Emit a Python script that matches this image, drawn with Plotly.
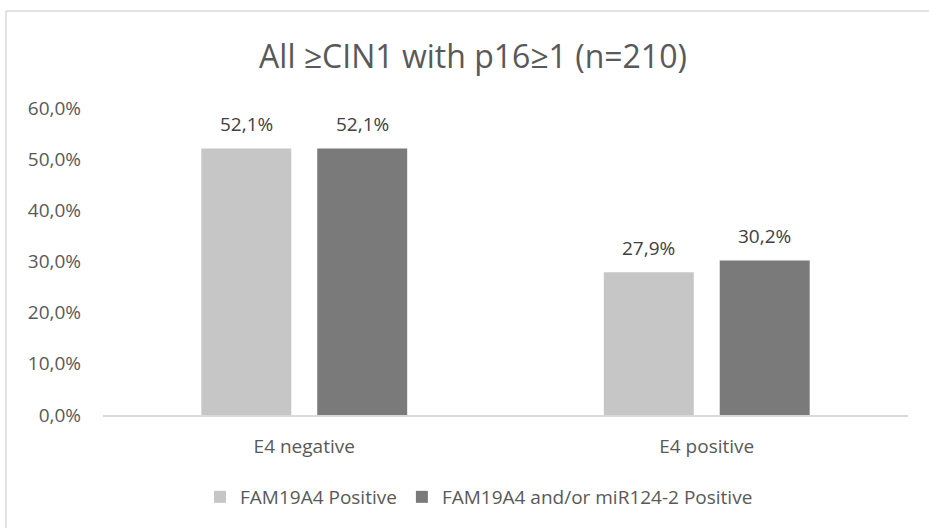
import plotly.graph_objects as go

categories = ["E4 negative", "E4 positive"]
series_names = ["FAM19A4 Positive", "FAM19A4 and/or miR124-2 Positive"]
fam19a4 = [52.1, 27.9]
fam19a4_mir = [52.1, 30.2]
series_values = [fam19a4, fam19a4_mir]
colors = ["#c6c6c6", "#7a7a7a"]
y_ticks = [0, 10, 20, 30, 40, 50, 60]
title_text = "All ≥CIN1 with p16≥1 (n=210)"

FONT = "Open Sans"


def pct(v):
    return f"{v:.1f}%".replace(".", ",")


fig = go.Figure()
for name, vals, col in zip(series_names, series_values, colors):
    fig.add_trace(go.Bar(
        x=categories, y=vals, name=name,
        marker=dict(color=col, line=dict(width=0)),
        hoverinfo="skip",
    ))

# data labels
shifts = [-58, 58]
for vals, sh in zip(series_values, shifts):
    for c, v in zip(categories, vals):
        fig.add_annotation(
            x=c, y=v, xref="x", yref="y", text=pct(v),
            showarrow=False, xshift=sh, yshift=9, yanchor="bottom",
            font=dict(family=FONT, size=19, color="#404040"),
        )

L, R, T, B = 103, 21, 108, 113
W, H = 929, 528
pw, ph = W - L - R, H - T - B


def px(xp):
    return (xp - L) / pw


def py(yp):
    return (H - B - yp) / ph


# chart-area border (left and top edges visible)
border = dict(color="#d9d9d9", width=1.5)
fig.add_shape(type="line", xref="paper", yref="paper",
              x0=px(6), x1=px(6), y0=py(540), y1=py(11), line=border, layer="below")
fig.add_shape(type="line", xref="paper", yref="paper",
              x0=px(6), x1=px(940), y0=py(11), y1=py(11), line=border, layer="below")

fig.update_layout(
    width=W, height=H,
    margin=dict(l=L, r=R, t=T, b=B),
    paper_bgcolor="white", plot_bgcolor="white",
    separators=",.",
    barmode="group", bargap=0.424, bargroupgap=0.224,
    title=dict(text=title_text, x=473 / W, xanchor="center", y=1 - 57 / H,
               yanchor="middle", font=dict(family=FONT, size=32, color="#595959")),
    font=dict(family=FONT, color="#595959"),
    showlegend=True,
    legend=dict(orientation="h", x=px(479), xanchor="center", y=py(497), yanchor="middle",
                font=dict(family=FONT, size=19, color="#595959"),
                itemclick=False, itemdoubleclick=False),
    xaxis=dict(showline=True, linecolor="#d9d9d9", linewidth=1.5, showgrid=False,
               ticks="", tickfont=dict(family=FONT, size=19, color="#595959"),
               ticklabelstandoff=13, fixedrange=True),
    yaxis=dict(range=[0, 60], tickmode="array", tickvals=y_ticks,
               ticktext=[pct(t) for t in y_ticks],
               showgrid=False, zeroline=False, showline=False, ticks="",
               tickfont=dict(family=FONT, size=19, color="#595959"),
               ticklabelstandoff=21, fixedrange=True),
)

fig.write_html(
    "out.html", config={"displayModeBar": False},
    post_script=("document.body.style.margin='0';"
                 "document.body.style.overflow='hidden';"
                 "document.documentElement.style.overflow='hidden';"),
)
